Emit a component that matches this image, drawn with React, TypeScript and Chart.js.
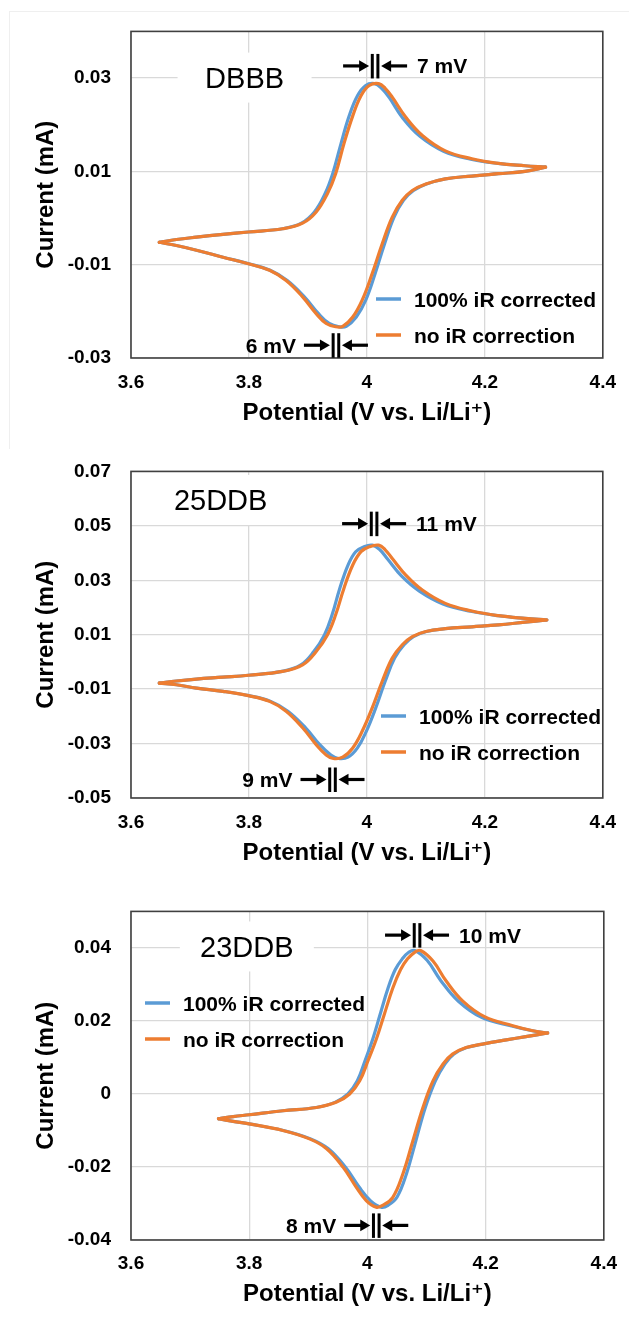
import React, { useEffect, useRef } from 'react';
import { Chart, registerables } from 'chart.js';

Chart.register(...registerables);

// ---------- data ----------
const xTicks = [3.6, 3.8, 4.0, 4.2, 4.4];
const dbbbTicks = [-0.03, -0.01, 0.01, 0.03];
const ddb25Ticks = [-0.05, -0.03, -0.01, 0.01, 0.03, 0.05, 0.07];
const ddb23Ticks = [-0.04, -0.02, 0, 0.02, 0.04];

const seriesLabels = ['100% iR corrected', 'no iR correction'];
const chartNames = ['DBBB', '25DDB', '23DDB'];
const shiftLabels = [
  ['7 mV', '6 mV'],
  ['11 mV', '9 mV'],
  ['10 mV', '8 mV'],
];

// DBBB
const dbbbCorrV = [3.648, 3.677, 3.711, 3.756, 3.799, 3.857, 3.889, 3.911, 3.929, 3.942, 3.956, 3.970, 3.984, 3.998, 4.013, 4.025, 4.038, 4.061, 4.090, 4.130, 4.176, 4.222, 4.268, 4.303,
  4.268, 4.223, 4.178, 4.133, 4.101, 4.079, 4.062, 4.046, 4.030, 4.014, 3.998, 3.982, 3.965, 3.953, 3.936, 3.918, 3.894, 3.865, 3.836, 3.800, 3.756, 3.711, 3.677, 3.648];
const dbbbCorrI = [-0.0052, -0.0046, -0.0041, -0.0035, -0.0030, -0.0023, -0.0011, 0.0013, 0.0052, 0.0095, 0.0159, 0.0219, 0.0262, 0.0284, 0.0288, 0.0278, 0.0258, 0.0214, 0.0175, 0.0143, 0.0126, 0.0117, 0.0112, 0.0109,
  0.0100, 0.0095, 0.0090, 0.0084, 0.0073, 0.0059, 0.0038, 0.0002, -0.0055, -0.0119, -0.0176, -0.0212, -0.0232, -0.0233, -0.0226, -0.0205, -0.0169, -0.0134, -0.0112, -0.0098, -0.0084, -0.0069, -0.0059, -0.0052];
const dbbbRawV = [3.648, 3.677, 3.711, 3.756, 3.799, 3.857, 3.891, 3.914, 3.933, 3.947, 3.961, 3.976, 3.990, 4.004, 4.020, 4.031, 4.043, 4.066, 4.094, 4.133, 4.178, 4.223, 4.268, 4.303,
  4.268, 4.223, 4.178, 4.133, 4.100, 4.077, 4.060, 4.043, 4.026, 4.009, 3.992, 3.976, 3.959, 3.947, 3.931, 3.914, 3.891, 3.863, 3.835, 3.799, 3.756, 3.711, 3.677, 3.648];
const dbbbRawI = [-0.0052, -0.0046, -0.0041, -0.0035, -0.0030, -0.0023, -0.0011, 0.0013, 0.0052, 0.0095, 0.0159, 0.0219, 0.0262, 0.0284, 0.0288, 0.0278, 0.0259, 0.0216, 0.0177, 0.0144, 0.0127, 0.0117, 0.0112, 0.0109,
  0.0100, 0.0095, 0.0090, 0.0084, 0.0073, 0.0059, 0.0038, 0.0002, -0.0055, -0.0119, -0.0176, -0.0212, -0.0232, -0.0233, -0.0226, -0.0205, -0.0169, -0.0134, -0.0112, -0.0098, -0.0084, -0.0069, -0.0059, -0.0052];

// 25DDB
const ddb25CorrV = [3.648, 3.677, 3.711, 3.756, 3.799, 3.856, 3.888, 3.910, 3.928, 3.941, 3.954, 3.968, 3.981, 3.995, 4.009, 4.022, 4.035, 4.059, 4.089, 4.129, 4.176, 4.222, 4.268, 4.305,
  4.268, 4.223, 4.178, 4.133, 4.101, 4.079, 4.063, 4.047, 4.031, 4.015, 3.999, 3.984, 3.968, 3.952, 3.939, 3.920, 3.896, 3.866, 3.837, 3.800, 3.756, 3.711, 3.677, 3.648];
const ddb25CorrI = [-0.0078, -0.0070, -0.0063, -0.0056, -0.0049, -0.0035, -0.0011, 0.0038, 0.0099, 0.0173, 0.0270, 0.0356, 0.0405, 0.0423, 0.0429, 0.0412, 0.0378, 0.0315, 0.0260, 0.0213, 0.0186, 0.0170, 0.0160, 0.0154,
  0.0146, 0.0136, 0.0129, 0.0122, 0.0112, 0.0093, 0.0063, 0.0014, -0.0071, -0.0169, -0.0255, -0.0316, -0.0350, -0.0355, -0.0342, -0.0304, -0.0242, -0.0181, -0.0145, -0.0124, -0.0108, -0.0096, -0.0084, -0.0078];
const ddb25RawV = [3.648, 3.677, 3.711, 3.756, 3.799, 3.857, 3.891, 3.914, 3.933, 3.947, 3.961, 3.976, 3.990, 4.004, 4.020, 4.031, 4.043, 4.066, 4.094, 4.133, 4.178, 4.223, 4.268, 4.305,
  4.268, 4.223, 4.178, 4.133, 4.100, 4.077, 4.060, 4.043, 4.026, 4.009, 3.992, 3.976, 3.959, 3.943, 3.931, 3.914, 3.891, 3.863, 3.835, 3.799, 3.756, 3.711, 3.677, 3.648];
const ddb25RawI = [-0.0078, -0.0070, -0.0063, -0.0056, -0.0049, -0.0035, -0.0011, 0.0038, 0.0099, 0.0173, 0.0270, 0.0356, 0.0405, 0.0423, 0.0429, 0.0412, 0.0380, 0.0319, 0.0264, 0.0215, 0.0187, 0.0170, 0.0160, 0.0154,
  0.0146, 0.0136, 0.0129, 0.0122, 0.0112, 0.0093, 0.0063, 0.0014, -0.0071, -0.0169, -0.0255, -0.0316, -0.0350, -0.0355, -0.0342, -0.0304, -0.0242, -0.0181, -0.0145, -0.0124, -0.0108, -0.0096, -0.0084, -0.0078];

// 23DDB
const ddb23CorrV = [3.748, 3.773, 3.800, 3.857, 3.913, 3.945, 3.967, 3.983, 3.996, 4.009, 4.021, 4.035, 4.047, 4.059, 4.070, 4.080, 4.101, 4.124, 4.154, 4.194, 4.244, 4.279, 4.305,
  4.268, 4.235, 4.199, 4.168, 4.146, 4.131, 4.115, 4.098, 4.082, 4.066, 4.050, 4.035, 4.023, 4.005, 3.986, 3.963, 3.934, 3.904, 3.858, 3.800, 3.773, 3.748];
const ddb23CorrI = [-0.0068, -0.0062, -0.0057, -0.0046, -0.0037, -0.0023, 0.0000, 0.0036, 0.0091, 0.0150, 0.0215, 0.0290, 0.0340, 0.0370, 0.0388, 0.0393, 0.0366, 0.0311, 0.0254, 0.0209, 0.0186, 0.0173, 0.0167,
  0.0157, 0.0148, 0.0138, 0.0127, 0.0109, 0.0082, 0.0036, -0.0037, -0.0128, -0.0219, -0.0283, -0.0305, -0.0310, -0.0292, -0.0255, -0.0201, -0.0150, -0.0123, -0.0100, -0.0082, -0.0075, -0.0068];
const ddb23RawV = [3.748, 3.773, 3.800, 3.857, 3.914, 3.947, 3.970, 3.987, 4.001, 4.015, 4.028, 4.043, 4.056, 4.068, 4.080, 4.090, 4.111, 4.133, 4.161, 4.199, 4.246, 4.280, 4.305,
  4.268, 4.235, 4.199, 4.167, 4.144, 4.128, 4.111, 4.094, 4.077, 4.060, 4.043, 4.026, 4.015, 3.998, 3.981, 3.959, 3.931, 3.902, 3.857, 3.800, 3.773, 3.748];
const ddb23RawI = [-0.0068, -0.0062, -0.0057, -0.0046, -0.0037, -0.0023, 0.0000, 0.0036, 0.0091, 0.0150, 0.0215, 0.0290, 0.0340, 0.0370, 0.0388, 0.0393, 0.0364, 0.0310, 0.0255, 0.0211, 0.0187, 0.0173, 0.0167,
  0.0157, 0.0148, 0.0138, 0.0127, 0.0109, 0.0082, 0.0036, -0.0037, -0.0128, -0.0219, -0.0283, -0.0305, -0.0310, -0.0292, -0.0255, -0.0201, -0.0150, -0.0123, -0.0100, -0.0082, -0.0075, -0.0068];

// ---------- styling / layout ----------
const BLUE = '#5B9BD5';
const ORANGE = '#ED7D31';
const FONT = "'Liberation Sans', Arial, 'DejaVu Sans', sans-serif";
const GRID = '#d9d9d9';

type Marker = { v: number; i: number; text: string; side: 'left' | 'right' };
type PanelCfg = {
  top: number;
  height: number;
  padTop: number;
  xAxisH: number;
  xTickPad: number;
  xTitlePad: number;
  yMin: number;
  yMax: number;
  yTicks: number[];
  corrV: number[];
  corrI: number[];
  rawV: number[];
  rawI: number[];
  name: string;
  nameAt: { v: number; i: number };
  markers: Marker[];
  legendAt: { x: number; y: number };
};

const panels: PanelCfg[] = [
  {
    top: 0, height: 440, padTop: 31, xAxisH: 82, xTickPad: 13, xTitlePad: 12,
    yMin: -0.03, yMax: 0.04, yTicks: dbbbTicks,
    corrV: dbbbCorrV, corrI: dbbbCorrI, rawV: dbbbRawV, rawI: dbbbRawI,
    name: chartNames[0], nameAt: { v: 3.7926, i: 0.0301 },
    markers: [
      { v: 4.0139, i: 0.0326, text: shiftLabels[0][0], side: 'right' },
      { v: 3.9475, i: -0.02726, text: shiftLabels[0][1], side: 'left' },
    ],
    legendAt: { x: 376, y: 299 },
  },
  {
    top: 440, height: 440, padTop: 31, xAxisH: 82, xTickPad: 13, xTitlePad: 12,
    yMin: -0.05, yMax: 0.07, yTicks: ddb25Ticks,
    corrV: ddb25CorrV, corrI: ddb25CorrI, rawV: ddb25RawV, rawI: ddb25RawI,
    name: chartNames[1], nameAt: { v: 3.7520, i: 0.0595 },
    markers: [
      { v: 4.0122, i: 0.0508, text: shiftLabels[1][0], side: 'right' },
      { v: 3.9417, i: -0.0432, text: shiftLabels[1][1], side: 'left' },
    ],
    legendAt: { x: 381, y: 276 },
  },
  {
    top: 880, height: 445, padTop: 30, xAxisH: 85, xTickPad: 12, xTitlePad: 16,
    yMin: -0.04, yMax: 0.05, yTicks: ddb23Ticks,
    corrV: ddb23CorrV, corrI: ddb23CorrI, rawV: ddb23RawV, rawI: ddb23RawI,
    name: chartNames[2], nameAt: { v: 3.7960, i: 0.0404 },
    markers: [
      { v: 4.0840, i: 0.0435, text: shiftLabels[2][0], side: 'right' },
      { v: 4.0150, i: -0.0360, text: shiftLabels[2][1], side: 'left' },
    ],
    legendAt: { x: 145, y: 123 },
  },
];

function splitSweeps(v: number[], i: number[]) {
  let k = 0;
  for (let j = 1; j < v.length; j++) if (v[j] > v[k]) k = j;
  const pts = v.map((x, j) => ({ x, y: i[j] }));
  return [pts.slice(0, k + 1), pts.slice(k)];
}

const fmt = (val: number, d: number) => String(Number(Number(val).toFixed(d)));

function textCap(ctx: CanvasRenderingContext2D, s: string, x: number, cy: number, size: number, align: CanvasTextAlign) {
  ctx.textAlign = align;
  ctx.textBaseline = 'alphabetic';
  ctx.fillText(s, x, cy + size * 0.358);
}

function arrow(ctx: CanvasRenderingContext2D, x1: number, x2: number, y: number) {
  const dir = Math.sign(x2 - x1);
  ctx.lineWidth = 3.2;
  ctx.beginPath();
  ctx.moveTo(x1, y);
  ctx.lineTo(x2 - dir * 8, y);
  ctx.stroke();
  ctx.beginPath();
  ctx.moveTo(x2, y);
  ctx.lineTo(x2 - dir * 10, y - 5.8);
  ctx.lineTo(x2 - dir * 10, y + 5.8);
  ctx.closePath();
  ctx.fill();
}

function makeDeco(p: PanelCfg) {
  return {
    id: 'deco',
    beforeDatasetsDraw(chart: any) {
      const { ctx, scales } = chart;
      const cx = scales.x.getPixelForValue(p.nameAt.v);
      const cy = scales.y.getPixelForValue(p.nameAt.i);
      ctx.save();
      ctx.fillStyle = '#ffffff';
      ctx.fillRect(cx - 67, cy - 25, 134, 50);
      ctx.fillStyle = '#000';
      ctx.font = `29px ${FONT}`;
      textCap(ctx, p.name, cx, cy, 29, 'center');
      ctx.restore();
    },
    afterDatasetsDraw(chart: any) {
      const { ctx, scales, chartArea } = chart;
      ctx.save();
      // plot frame
      ctx.strokeStyle = '#404040';
      ctx.lineWidth = 1.6;
      ctx.strokeRect(chartArea.left, chartArea.top, chartArea.right - chartArea.left, chartArea.bottom - chartArea.top);
      // peak-shift markers
      ctx.strokeStyle = '#000';
      ctx.fillStyle = '#000';
      ctx.font = `bold 21px ${FONT}`;
      for (const m of p.markers) {
        const mx = scales.x.getPixelForValue(m.v);
        const my = scales.y.getPixelForValue(m.i);
        ctx.lineWidth = 3;
        for (const dx of [-2.8, 2.8]) {
          ctx.beginPath();
          ctx.moveTo(mx + dx, my - 12);
          ctx.lineTo(mx + dx, my + 12.5);
          ctx.stroke();
        }
        arrow(ctx, mx - 32, mx - 6, my);
        arrow(ctx, mx + 32, mx + 6, my);
        if (m.side === 'right') textCap(ctx, m.text, mx + 42, my, 21, 'left');
        else textCap(ctx, m.text, mx - 40, my, 21, 'right');
      }
      // legend
      const colors = [BLUE, ORANGE];
      for (let k = 0; k < 2; k++) {
        const ly = p.legendAt.y + k * 36;
        ctx.strokeStyle = colors[k];
        ctx.lineWidth = 3.5;
        ctx.beginPath();
        ctx.moveTo(p.legendAt.x, ly);
        ctx.lineTo(p.legendAt.x + 25, ly);
        ctx.stroke();
        ctx.fillStyle = '#000';
        textCap(ctx, seriesLabels[k], p.legendAt.x + 38, ly, 21, 'left');
      }
      ctx.restore();
    },
  };
}

function Panel({ p }: { p: PanelCfg }) {
  const ref = useRef<HTMLCanvasElement | null>(null);
  useEffect(() => {
    if (!ref.current) return;
    const [cf, cr] = splitSweeps(p.corrV, p.corrI);
    const [rf, rr] = splitSweeps(p.rawV, p.rawI);
    const base = { borderWidth: 3.2, pointRadius: 0, tension: 0.4, fill: false, borderCapStyle: 'round', borderJoinStyle: 'round' };
    const tickFont = { family: FONT, size: 19, weight: 'bold' as const };
    const titleFont = { family: FONT, size: 24, weight: 'bold' as const };
    const chart = new Chart(ref.current, {
      type: 'line',
      data: {
        datasets: [
          { ...base, label: seriesLabels[0], data: cf, borderColor: BLUE, order: 1 },
          { ...base, label: seriesLabels[0], data: cr, borderColor: BLUE, order: 1 },
          { ...base, label: seriesLabels[1], data: rf, borderColor: ORANGE, order: 0 },
          { ...base, label: seriesLabels[1], data: rr, borderColor: ORANGE, order: 0 },
        ] as any,
      },
      options: {
        animation: false,
        responsive: false,
        devicePixelRatio: 1,
        events: [],
        layout: { padding: { top: p.padTop, right: 25, left: 0, bottom: 0 } },
        plugins: { legend: { display: false }, tooltip: { enabled: false }, title: { display: false } },
        scales: {
          x: {
            type: 'linear',
            min: 3.6,
            max: 4.4,
            afterBuildTicks: (s: any) => { s.ticks = xTicks.map((v) => ({ value: v })); },
            afterFit: (s: any) => { s.height = p.xAxisH; },
            grid: { color: GRID, lineWidth: 1.3, drawTicks: false },
            border: { display: false },
            ticks: { padding: p.xTickPad, color: '#000', font: tickFont, maxRotation: 0, autoSkip: false, callback: (v: any) => fmt(v, 1) },
            title: { display: true, text: 'Potential (V vs. Li/Li\u207A)', color: '#000', font: titleFont, padding: { top: 0, bottom: p.xTitlePad } },
          },
          y: {
            type: 'linear',
            min: p.yMin,
            max: p.yMax,
            afterBuildTicks: (s: any) => { s.ticks = p.yTicks.map((v) => ({ value: v })); },
            afterFit: (s: any) => { s.width = 131; },
            grid: { color: GRID, lineWidth: 1.3, drawTicks: false },
            border: { display: false },
            ticks: { padding: 20, color: '#000', font: tickFont, autoSkip: false, callback: (v: any) => fmt(v, 2) },
            title: { display: true, text: 'Current (mA)', color: '#000', font: titleFont, padding: { top: 31.6, bottom: 0 } },
          },
        },
      } as any,
      plugins: [makeDeco(p)],
    });
    return () => chart.destroy();
  }, [p]);
  return (
    <canvas
      ref={ref}
      width={629}
      height={p.height}
      style={{ position: 'absolute', left: 0, top: p.top, width: 629, height: p.height }}
    />
  );
}

export default function App() {
  return (
    <div style={{ position: 'absolute', left: 0, top: 0, width: 629, height: 1325, background: '#ffffff', overflow: 'hidden' }}>
      <div style={{ position: 'absolute', left: 9, top: 11, width: 620, height: 437, borderLeft: '1px solid #efefef', borderTop: '1px solid #efefef' }} />
      {panels.map((p, k) => (
        <Panel key={k} p={p} />
      ))}
    </div>
  );
}
